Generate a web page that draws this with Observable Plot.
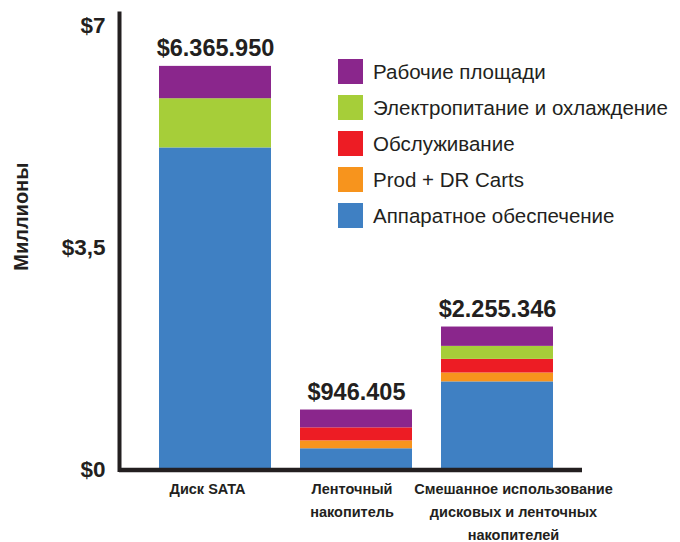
<!DOCTYPE html>
<html>
<head>
<meta charset="utf-8">
<script src="https://cdn.jsdelivr.net/npm/d3@7"></script>
<script src="https://cdn.jsdelivr.net/npm/@observablehq/plot@0.6"></script>
<style>
  body { margin: 0; background: #fff; }
  #wrap { position: relative; width: 680px; height: 542px; font-family: "Liberation Sans", Arial, sans-serif; }
  #legend { position: absolute; left: 338px; top: 59px; color: #231f20; }
  .row { display: flex; align-items: center; height: 25px; margin-bottom: 11px; }
  .sw { width: 25px; height: 25px; margin-right: 10px; flex: none; }
  .lb { font-size: 20.5px; white-space: nowrap; line-height: 25px; }
</style>
</head>
<body>
<div id="wrap"></div>
<script>
const categories = ["Диск SATA", "Ленточный накопитель", "Смешанное использование дисковых и ленточных накопителей"];
const categoryLabels = ["Диск SATA", "Ленточный\nнакопитель", "Смешанное использование\nдисковых и ленточных\nнакопителей"];
const series = ["Аппаратное обеспечение", "Prod + DR Carts", "Обслуживание", "Электропитание и охлаждение", "Рабочие площади"];
const seriesColors = ["#3f80c3", "#f7941d", "#ed1c24", "#a6ce39", "#8a268c"];
// values in millions of dollars, bottom to top of each stack
const hardware = [5.08, 0.335, 1.39];
const prodDr = [0, 0.125, 0.14];
const service = [0, 0.205, 0.215];
const power = [0.776, 0, 0.205];
const workspace = [0.51, 0.281, 0.305];
const totals = [6365950, 946405, 2255346];
const totalLabels = ["$6.365.950", "$946.405", "$2.255.346"];
const yTicks = [0, 3.5, 7];
const yLabel = "Миллионы";
const legendOrder = ["Рабочие площади", "Электропитание и охлаждение", "Обслуживание", "Prod + DR Carts", "Аппаратное обеспечение"];

const seriesValues = [hardware, prodDr, service, power, workspace];
const rows = [];
series.forEach((s, si) => categories.forEach((c, ci) => rows.push({category: c, series: s, value: seriesValues[si][ci]})));
const totalRows = categories.map((c, i) => ({category: c, total: totals[i] / 1e6, label: totalLabels[i]}));

const ink = "#231f20";
const font = "'Liberation Sans', Arial, sans-serif";
const catDx = [-8, -4.5, 16];

const chart = Plot.plot({
  width: 680,
  height: 542,
  marginLeft: 119,
  marginRight: 98,
  marginTop: 13,
  marginBottom: 72.5,
  style: {fontFamily: font, color: ink, background: "#fff"},
  x: {type: "band", domain: categories, range: [136, 577], paddingInner: 0.204, paddingOuter: 0.155, axis: null},
  y: {domain: [0, 7.2], axis: null},
  color: {domain: series, range: seriesColors},
  marks: [
    Plot.barY(rows, {x: "category", y: "value", fill: "series", order: series}),
    Plot.axisY({ticks: yTicks, tickSize: 0, tickPadding: 14, fontSize: 22.5, fontWeight: "bold", fill: ink,
      tickFormat: d => "$" + String(d).replace(".", ","), label: null}),
    Plot.text([yLabel], {frameAnchor: "left", textAnchor: "middle", rotate: -90, dx: -98, dy: -25, fontSize: 20, fontWeight: "bold", fill: ink}),
    Plot.text(totalRows, {x: "category", y: "total", text: "label", lineAnchor: "bottom", dy: -10, fontSize: 23.5, fontWeight: "bold", fill: ink}),
    ...categories.map((c, i) => Plot.text([c], {x: d => d, y: () => 0, text: () => categoryLabels[i], lineAnchor: "top", dy: 7.5, dx: catDx[i],
      fontSize: 14.5, fontWeight: "bold", lineHeight: 1.6, fill: ink})),
    Plot.ruleY([0], {stroke: ink, strokeWidth: 4.5}),
    Plot.frame({anchor: "left", stroke: ink, strokeWidth: 4})
  ]
});
document.getElementById("wrap").appendChild(chart);

const legend = document.createElement("div");
legend.id = "legend";
legendOrder.forEach(name => {
  const row = document.createElement("div");
  row.className = "row";
  const sw = document.createElement("div");
  sw.className = "sw";
  sw.style.background = seriesColors[series.indexOf(name)];
  const lb = document.createElement("div");
  lb.className = "lb";
  lb.textContent = name;
  row.appendChild(sw);
  row.appendChild(lb);
  legend.appendChild(row);
});
document.getElementById("wrap").appendChild(legend);
</script>
</body>
</html>
